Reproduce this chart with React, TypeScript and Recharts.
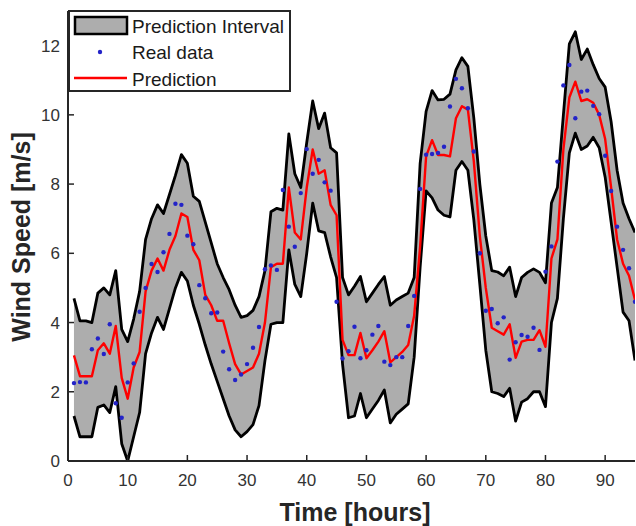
import React from 'react';
import { ComposedChart, Area, Line, XAxis, YAxis, Legend } from 'recharts';

const hours = [
  1, 2, 3, 4, 5, 6, 7, 8, 9, 10, 11, 12, 13, 14, 15, 16, 17, 18, 19, 20,
  21, 22, 23, 24, 25, 26, 27, 28, 29, 30, 31, 32, 33, 34, 35, 36, 37, 38, 39, 40,
  41, 42, 43, 44, 45, 46, 47, 48, 49, 50, 51, 52, 53, 54, 55, 56, 57, 58, 59, 60,
  61, 62, 63, 64, 65, 66, 67, 68, 69, 70, 71, 72, 73, 74, 75, 76, 77, 78, 79, 80,
  81, 82, 83, 84, 85, 86, 87, 88, 89, 90, 91, 92, 93, 94, 95,
];

const upperBound = [
  4.7, 4.05, 4.05, 4.0, 4.85, 5.0, 4.8, 5.5, 3.8, 3.45,
  4.1, 4.9, 6.4, 7.0, 7.4, 7.15, 7.7, 8.25, 8.85, 8.6,
  7.65, 7.5, 6.9, 6.3, 5.7, 5.3, 4.95, 4.5, 4.15, 4.2,
  4.35, 4.75, 5.5, 7.2, 7.3, 7.25, 9.45, 8.3, 7.9, 9.2,
  10.4, 9.6, 10.05, 9.05, 8.9, 5.3, 4.8, 5.05, 5.33, 4.6,
  4.85, 5.1, 5.33, 4.5, 4.65, 4.75, 4.85, 5.3, 8.6, 10.1,
  10.7, 10.43, 10.45, 10.6, 11.3, 11.65, 11.4, 9.9, 8.0, 6.5,
  5.5, 5.46, 5.35, 5.6, 4.75, 5.3, 5.45, 5.55, 5.45, 5.15,
  7.45, 7.9, 10.0, 12.05, 12.4, 11.6, 11.9, 11.45, 11.05, 10.8,
  9.8, 8.4, 7.45, 7.0, 6.6,
];

const lowerBound = [
  1.3, 0.7, 0.7, 0.7, 1.55, 1.62, 1.4, 2.15, 0.5, 0.0,
  0.7, 1.4, 3.1, 3.7, 4.15, 3.8, 4.4, 5.0, 5.45, 5.2,
  4.5, 3.95, 3.35, 2.8, 2.3, 1.8, 1.3, 0.9, 0.7, 0.85,
  1.05, 1.6, 2.9, 3.95, 4.0, 4.0, 6.1, 5.1, 4.75, 6.0,
  7.45, 6.65, 6.6, 5.9, 5.3, 2.8, 1.25, 1.3, 1.95, 1.25,
  1.5, 1.75, 2.05, 1.1, 1.35, 1.5, 1.65, 3.0, 5.6, 7.8,
  7.6, 7.25, 7.1, 7.05, 8.4, 8.65, 8.4, 6.96, 5.1, 3.2,
  2.0, 1.95, 1.86, 2.1, 1.15, 1.7, 1.8, 2.0, 2.0, 1.57,
  4.0, 4.7, 7.0, 8.9, 9.47, 9.0, 9.1, 9.35, 9.05, 8.2,
  6.9, 5.6, 4.3, 4.05, 2.9,
];

const prediction = [
  3.05, 2.45, 2.45, 2.45, 3.2, 3.4, 3.1, 3.9, 2.4, 1.8,
  2.7, 3.15, 4.9, 5.5, 5.85, 5.5, 6.1, 6.5, 7.15, 7.05,
  6.1, 5.8, 4.8, 4.5, 4.05, 4.05, 3.4, 2.8, 2.5, 2.6,
  2.7, 3.1, 4.0, 5.6, 5.7, 5.7, 7.9, 6.6, 6.4, 7.9,
  9.0, 8.3, 8.4, 7.4, 7.1, 3.5, 3.06, 3.06, 3.7, 2.97,
  3.2, 3.45, 3.75, 2.85, 3.0, 3.15, 3.35, 4.2, 6.2, 8.8,
  9.27, 8.84, 8.84, 8.8, 9.9, 10.25, 10.15, 8.65, 6.5, 5.0,
  3.85, 3.75, 3.65, 3.95, 2.98, 3.45, 3.5, 3.5, 3.78, 3.3,
  5.85, 6.4, 9.0, 10.5, 10.96, 10.4, 10.45, 10.35, 10.0, 9.3,
  7.9, 6.4, 5.7, 5.35, 4.65,
];

const realData = [
  2.25, 2.28, 2.27, 3.23, 3.54, 3.09, 3.95, 1.67, 1.25, 2.27,
  2.82, 4.31, 5.0, 5.69, 5.46, 6.03, 6.56, 7.43, 7.4, 6.51,
  6.26, 5.08, 4.7, 4.27, 4.29, 3.16, 2.65, 2.34, 2.5, 2.8,
  3.27, 3.87, 5.54, 5.65, 5.52, 7.83, 6.77, 6.19, 7.74, 9.01,
  8.3, 8.7, 8.05, 7.81, 4.6, 2.96, 3.17, 3.88, 2.97, 3.2,
  3.65, 3.9, 2.87, 2.77, 3.0, 3.0, 3.9, 4.77, 7.86, 8.85,
  8.87, 8.9, 9.08, 10.24, 11.04, 10.77, 10.19, 8.94, 6.0, 4.34,
  4.39, 3.98, 4.15, 2.93, 3.43, 3.64, 3.59, 3.85, 3.21, 5.47,
  6.2, 8.65, 10.85, 11.44, 9.9, 10.67, 10.7, 10.26, 10.02, 8.82,
  7.8, 6.77, 6.1, 5.57, 4.6,
];

const xTicks = [0, 10, 20, 30, 40, 50, 60, 70, 80, 90];
const yTicks = [0, 2, 4, 6, 8, 10, 12];
const legendLabels = ['Prediction Interval', 'Real data', 'Prediction'];

const data = hours.map((h, i) => ({
  hour: h,
  band: [lowerBound[i], upperBound[i]],
  pred: prediction[i],
  real: realData[i],
}));

const FONT = '"Liberation Sans", Arial, Helvetica, sans-serif';
const AXIS = '#262626';
const TICKTXT = '#333333';
const BAND = '#adadad';

const LegendBox = () => (
  <svg width={223} height={82} style={{ display: 'block' }}>
    <rect x={1} y={1} width={221} height={80} fill="#ffffff" stroke={AXIS} strokeWidth={2} />
    <rect x={7} y={7} width={52} height={17} fill={BAND} stroke="#000" strokeWidth={2.5} />
    <circle cx={32} cy={42} r={2.2} fill="#2323c8" />
    <line x1={6} y1={68} x2={59} y2={68} stroke="#ff0000" strokeWidth={2.4} />
    {legendLabels.map((t, i) => (
      <text
        key={t}
        x={64}
        y={16 + i * 26.5}
        dominantBaseline="central"
        fontSize={19}
        fontFamily={FONT}
        fill="#1a1a1a"
      >
        {t}
      </text>
    ))}
  </svg>
);

export default function App() {
  return (
    <div style={{ position: 'absolute', left: 0, top: 0, width: 636, height: 526, background: '#fff' }}>
      <ComposedChart
        width={636}
        height={526}
        data={data}
        margin={{ top: 11, right: 1, bottom: 0, left: 0 }}
      >
        <XAxis
          dataKey="hour"
          type="number"
          domain={[0, 95]}
          ticks={xTicks}
          allowDataOverflow
          height={65}
          tickSize={-6}
          tickMargin={19}
          axisLine={{ stroke: AXIS, strokeWidth: 2 }}
          tickLine={{ stroke: AXIS, strokeWidth: 1.5 }}
          tick={{ fontSize: 17, fill: TICKTXT, fontFamily: FONT }}
          label={{
            content: () => (
              <text
                x={355}
                y={521}
                textAnchor="middle"
                fontSize={25}
                fontWeight="bold"
                fontFamily={FONT}
                fill={AXIS}
              >
                Time [hours]
              </text>
            ),
          }}
        />
        <XAxis
          xAxisId="top"
          orientation="top"
          dataKey="hour"
          type="number"
          domain={[0, 95]}
          ticks={xTicks}
          allowDataOverflow
          height={0}
          tickSize={-6}
          tick={false}
          axisLine={{ stroke: AXIS, strokeWidth: 2 }}
          tickLine={{ stroke: AXIS, strokeWidth: 1.5 }}
        />
        <YAxis
          type="number"
          domain={[0, 13]}
          ticks={yTicks}
          allowDataOverflow
          width={68}
          tickSize={-6}
          tickMargin={14}
          axisLine={{ stroke: AXIS, strokeWidth: 2 }}
          tickLine={{ stroke: AXIS, strokeWidth: 1.5 }}
          tick={{ fontSize: 17, fill: TICKTXT, fontFamily: FONT }}
          label={{
            content: () => (
              <text
                x={30}
                y={237}
                transform="rotate(-90, 30, 237)"
                textAnchor="middle"
                fontSize={25}
                fontWeight="bold"
                fontFamily={FONT}
                fill={AXIS}
              >
                Wind Speed [m/s]
              </text>
            ),
          }}
        />
        <YAxis
          yAxisId="right"
          orientation="right"
          type="number"
          domain={[0, 13]}
          ticks={yTicks}
          allowDataOverflow
          width={0}
          tickSize={-6}
          tick={false}
          axisLine={{ stroke: AXIS, strokeWidth: 2 }}
          tickLine={{ stroke: AXIS, strokeWidth: 1.5 }}
        />
        <Area
          dataKey="band"
          type="linear"
          fill={BAND}
          fillOpacity={1}
          stroke="#000000"
          strokeWidth={2.8}
          strokeLinejoin="round"
          dot={false}
          activeDot={false}
          isAnimationActive={false}
          legendType="none"
        />
        <Line
          dataKey="real"
          type="linear"
          stroke="none"
          dot={{ r: 2.2, fill: '#2323c8', stroke: 'none' }}
          activeDot={false}
          isAnimationActive={false}
          legendType="none"
        />
        <Line
          dataKey="pred"
          type="linear"
          stroke="#ff0000"
          strokeWidth={2.4}
          strokeLinejoin="round"
          dot={false}
          activeDot={false}
          isAnimationActive={false}
          legendType="none"
        />
        <Legend
          layout="horizontal"
          verticalAlign="middle"
          align="center"
          content={() => <LegendBox />}
          wrapperStyle={{ position: 'absolute', left: 68, top: 10, width: 223, height: 82, margin: 0, padding: 0 }}
        />
      </ComposedChart>
    </div>
  );
}
